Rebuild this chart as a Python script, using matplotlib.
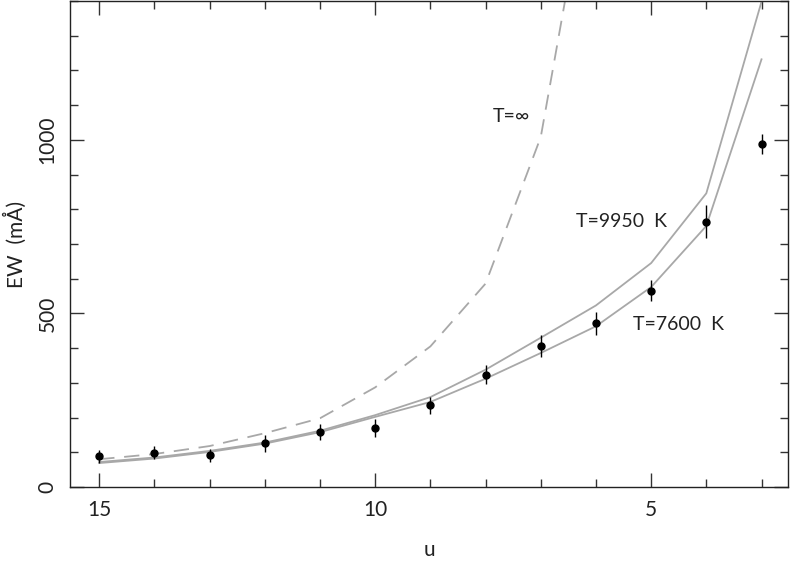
import matplotlib
matplotlib.use("Agg")
import matplotlib.pyplot as plt
from matplotlib.ticker import MultipleLocator

plt.rcParams['font.family'] = ['Lato', 'DejaVu Sans']
plt.rcParams['lines.scale_dashes'] = False

# observed equivalent widths
u_obs = [15, 14, 13, 12, 11, 10, 9, 8, 7, 6, 5, 4, 3]
ew_obs = [88, 99, 91, 126, 159, 169, 235, 324, 406, 471, 566, 764, 988]
ew_err = [20, 18, 19, 24, 23, 26, 25, 28, 31, 33, 29, 47, 30]

# model curves
u_mod = [15, 14, 13, 12, 11, 10, 9, 8, 7, 6, 5, 4, 3]
ew_7600 = [69, 82, 101, 125, 158, 202, 245, 312, 386, 463, 576, 752, 1232]
ew_9950 = [72, 85, 104, 128, 162, 207, 259, 338, 430, 523, 645, 846, 1398]
u_inf = [15, 14, 13, 12, 11, 10, 9, 8, 7, 6]
ew_inf = [80, 95, 118, 155, 198, 287, 405, 586, 1008, 1900]

grey = '#a8a8a8'
ink = '#222222'

fig = plt.figure(figsize=(7.9, 5.62), dpi=100)
ax = fig.add_axes([70 / 790, 75 / 562, 718 / 790, 486 / 562])

ax.plot(u_mod, ew_7600, color=grey, lw=1.3)
ax.plot(u_mod, ew_9950, color=grey, lw=1.3)
ax.plot(u_inf, ew_inf, color=grey, lw=1.3, linestyle=(0, (11, 7)))
ax.errorbar(u_obs, ew_obs, yerr=ew_err, fmt='o', color='black', ms=5,
            elinewidth=1.0, capsize=0)

ax.text(7.19, 1066, 'T=\u221e', ha='right', va='center', fontsize=14, color=ink)
ax.text(4.71, 764, 'T=9950  K', ha='right', va='center', fontsize=14, color=ink)
ax.text(5.33, 468, 'T=7600  K', ha='left', va='center', fontsize=14, color=ink)

ax.set_xlim(15.53, 2.52)
ax.set_ylim(0, 1400)
ax.xaxis.set_major_locator(MultipleLocator(5))
ax.xaxis.set_minor_locator(MultipleLocator(1))
ax.yaxis.set_major_locator(MultipleLocator(500))
ax.yaxis.set_minor_locator(MultipleLocator(100))
ax.tick_params(which='both', direction='in', top=True, right=True,
               labelsize=15, width=1.0, color='#333333', labelcolor=ink)
ax.tick_params(which='major', length=10, pad=9)
ax.tick_params(which='minor', length=6)
for lab in ax.get_yticklabels():
    lab.set_rotation(90)
    lab.set_va('center')
for s in ax.spines.values():
    s.set_linewidth(1.0)
    s.set_color('#222222')

ax.set_xlabel('u', fontsize=15, labelpad=15, color=ink)
ax.set_ylabel('EW  (m\u00c5)', fontsize=15, labelpad=8, color=ink)

fig.savefig('out.png', dpi=100)
